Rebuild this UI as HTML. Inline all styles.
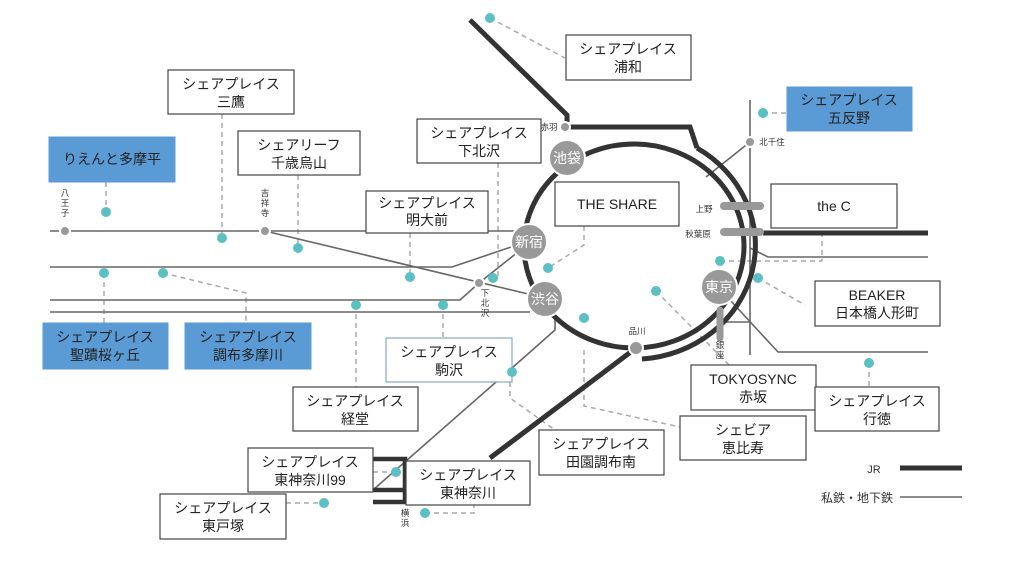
<!DOCTYPE html>
<html><head><meta charset="utf-8"><style>
html,body{margin:0;padding:0;background:#fff;}
svg{display:block;font-family:"Liberation Sans","Noto Sans CJK JP",sans-serif;}
.b{fill:#fff;stroke:#444;stroke-width:1.2}
.bl{fill:#5b9bd5;stroke:#5b9bd5}
.t{font-size:14px;fill:#222;text-anchor:middle}
.s{font-size:8.5px;fill:#333;text-anchor:middle}
.d{stroke:#aaa;stroke-width:1.5;stroke-dasharray:5,4;fill:none}
.g{stroke:#666;stroke-width:1.6;fill:none}
.j{stroke:#333;stroke-width:5;fill:none}
.c{fill:#5bc0c4}
.st{fill:#999;stroke:#fff;stroke-width:2}
.sl{font-size:14px;fill:#fff;text-anchor:middle}
</style></head><body>
<svg width="1024" height="576" viewBox="0 0 1024 576">
<path class="d" d="M490 18 L565 58"/>
<path class="d" d="M222 114 V238"/>
<path class="d" d="M106 182 V212"/>
<path class="d" d="M298 175 V248"/>
<path class="d" d="M498 163 V278"/>
<path class="d" d="M410 233 V277"/>
<path class="d" d="M763 113 H787"/>
<path class="d" d="M584 226 V245 L548 268"/>
<path class="d" d="M720 261 H822 V233"/>
<path class="d" d="M758 278 L805 305"/>
<path class="d" d="M104 273 V323"/>
<path class="d" d="M163 273 L246 293 V323"/>
<path class="d" d="M356 305 V387"/>
<path class="d" d="M443 305 V338"/>
<path class="d" d="M656 291 L730 366"/>
<path class="d" d="M584 350 V406 L680 427"/>
<path class="d" d="M510 382 V398 L555 430"/>
<path class="d" d="M869 363 V387"/>
<path class="d" d="M373 472 H396"/>
<path class="d" d="M286 503 H324"/>
<path class="d" d="M425 513 H474 V505"/>
<path class="g" d="M50 231 H522"/>
<path class="g" d="M50 267 H452 L517 245"/>
<path class="g" d="M50 300 H460 L479 283 L523 248"/>
<path class="g" d="M50 312 H530"/>
<path class="g" d="M265 231 L545 298"/>
<path class="g" d="M555 318 V330 L512 368 L373 490"/>
<path class="g" d="M750 100 V355"/>
<path class="g" d="M750 142 L706 177"/>
<path class="g" d="M750 248 L768 257 H928"/>
<path class="g" d="M730 300 L778 352 H928"/>
<path class="g" d="M723 322 H750"/>
<path class="j" d="M470 20 L567 115 V122"/>
<path class="j" d="M570 127 H690 L697 148"/>
<ellipse class="j" cx="634" cy="246" rx="110" ry="102"/>
<path class="j" d="M697 148 A122 114 0 0 1 642 359"/>
<path class="j" d="M636 348 L490 458"/>
<path d="M373 459 H405 V502 H373 M373 490 H405" stroke="#333" stroke-width="4.5" fill="none"/>
<path class="j" d="M763 233 H928"/>
<path d="M724 206 H760 M724 232 H760" stroke="#999" stroke-width="8" stroke-linecap="round"/>
<path d="M720 310 V338" stroke="#999" stroke-width="7" stroke-linecap="round"/>
<circle class="st" cx="567" cy="158" r="18"/><text class="sl" x="567" y="163">池袋</text>
<circle class="st" cx="529" cy="242" r="18"/><text class="sl" x="529" y="247">新宿</text>
<circle class="st" cx="545" cy="299" r="18"/><text class="sl" x="545" y="304">渋谷</text>
<circle class="st" cx="719" cy="287" r="18"/><text class="sl" x="719" y="292">東京</text>
<circle class="st" cx="636" cy="348" r="7"/><text class="s" x="637" y="334">品川</text>
<circle class="st" cx="565" cy="127" r="5"/><text class="s" x="549" y="130">赤羽</text>
<circle class="st" cx="750" cy="142" r="5"/><text class="s" x="772" y="145">北千住</text>
<circle class="st" cx="65" cy="231" r="5"/>
<text class="s" x="65" y="196">八</text><text class="s" x="65" y="206">王</text><text class="s" x="65" y="216">子</text>
<circle class="st" cx="265" cy="231" r="5"/>
<text class="s" x="265" y="196">吉</text><text class="s" x="265" y="206">祥</text><text class="s" x="265" y="216">寺</text>
<circle class="st" cx="479" cy="283" r="5"/>
<text class="s" x="485" y="296">下</text><text class="s" x="485" y="306">北</text><text class="s" x="485" y="316">沢</text>
<text class="s" x="720" y="348">銀</text><text class="s" x="720" y="358">座</text>
<text class="s" x="405" y="516">横</text><text class="s" x="405" y="526">浜</text>
<text class="s" x="704" y="212">上野</text>
<text class="s" x="698" y="237">秋葉原</text>
<g class="c">
<circle cx="490" cy="18" r="5"/><circle cx="106" cy="212" r="5"/><circle cx="222" cy="238" r="5"/>
<circle cx="298" cy="248" r="5"/><circle cx="410" cy="277" r="5"/><circle cx="493" cy="278" r="5"/>
<circle cx="763" cy="113" r="5"/><circle cx="548" cy="268" r="5"/><circle cx="720" cy="261" r="5"/>
<circle cx="758" cy="278" r="5"/><circle cx="104" cy="273" r="5"/><circle cx="163" cy="273" r="5"/>
<circle cx="356" cy="305" r="5"/><circle cx="443" cy="305" r="5"/><circle cx="656" cy="291" r="5"/>
<circle cx="584" cy="318" r="5"/><circle cx="869" cy="363" r="5"/>
<circle cx="396" cy="472" r="5"/><circle cx="324" cy="503" r="5"/><circle cx="425" cy="513" r="5"/>
</g>
<rect class="b" x="566" y="35" width="125" height="45"/><text class="t" x="628" y="54">シェアプレイス</text><text class="t" x="628" y="72">浦和</text>
<rect class="b" x="168" y="70" width="126" height="44"/><text class="t" x="231" y="89">シェアプレイス</text><text class="t" x="231" y="107">三鷹</text>
<rect class="bl" x="49" y="137" width="126" height="45"/><text class="t" x="112" y="164">りえんと多摩平</text>
<rect class="b" x="238" y="131" width="122" height="44"/><text class="t" x="299" y="150">シェアリーフ</text><text class="t" x="299" y="168">千歳烏山</text>
<rect class="b" x="417" y="119" width="124" height="44"/><text class="t" x="479" y="138">シェアプレイス</text><text class="t" x="479" y="156">下北沢</text>
<rect class="bl" x="787" y="87" width="125" height="44"/><text class="t" x="849" y="105">シェアプレイス</text><text class="t" x="849" y="123">五反野</text>
<rect class="b" x="555" y="182" width="124" height="44"/><text class="t" x="617" y="209">THE SHARE</text>
<rect class="b" x="771" y="184" width="126" height="44"/><text class="t" x="834" y="211">the C</text>
<rect class="b" x="366" y="191" width="122" height="42"/><text class="t" x="427" y="208">シェアプレイス</text><text class="t" x="427" y="225">明大前</text>
<rect class="bl" x="43" y="323" width="125" height="46"/><text class="t" x="105" y="342">シェアプレイス</text><text class="t" x="105" y="360">聖蹟桜ヶ丘</text>
<rect class="bl" x="185" y="323" width="126" height="46"/><text class="t" x="248" y="342">シェアプレイス</text><text class="t" x="248" y="360">調布多摩川</text>
<rect class="b" x="386" y="338" width="126" height="44" style="stroke:#8ab"/><text class="t" x="449" y="357">シェアプレイス</text><text class="t" x="449" y="375">駒沢</text>
<circle class="c" cx="512" cy="372" r="5"/>
<rect class="b" x="815" y="281" width="125" height="45"/><text class="t" x="877" y="300">BEAKER</text><text class="t" x="877" y="318">日本橋人形町</text>
<rect class="b" x="691" y="365" width="125" height="45"/><text class="t" x="753" y="384">TOKYOSYNC</text><text class="t" x="753" y="402">赤坂</text>
<rect class="b" x="293" y="387" width="125" height="44"/><text class="t" x="355" y="406">シェアプレイス</text><text class="t" x="355" y="424">経堂</text>
<rect class="b" x="815" y="387" width="124" height="44"/><text class="t" x="877" y="406">シェアプレイス</text><text class="t" x="877" y="424">行徳</text>
<rect class="b" x="680" y="416" width="126" height="44"/><text class="t" x="743" y="435">シェビア</text><text class="t" x="743" y="453">恵比寿</text>
<rect class="b" x="539" y="430" width="125" height="45"/><text class="t" x="601" y="449">シェアプレイス</text><text class="t" x="601" y="467">田園調布南</text>
<rect class="b" x="248" y="448" width="125" height="44"/><text class="t" x="310" y="467">シェアプレイス</text><text class="t" x="310" y="485">東神奈川99</text>
<rect class="b" x="406" y="461" width="124" height="44"/><text class="t" x="468" y="480">シェアプレイス</text><text class="t" x="468" y="498">東神奈川</text>
<rect class="b" x="160" y="494" width="126" height="45"/><text class="t" x="223" y="513">シェアプレイス</text><text class="t" x="223" y="531">東戸塚</text>
<text x="874" y="473" style="font-size:11px;fill:#333;text-anchor:middle">JR</text>
<path d="M900 468 H962" stroke="#333" stroke-width="5"/>
<text x="857" y="502" style="font-size:12px;fill:#333;text-anchor:middle">私鉄・地下鉄</text>
<path d="M900 497 H962" stroke="#666" stroke-width="1.6"/>
</svg>
</body></html>
